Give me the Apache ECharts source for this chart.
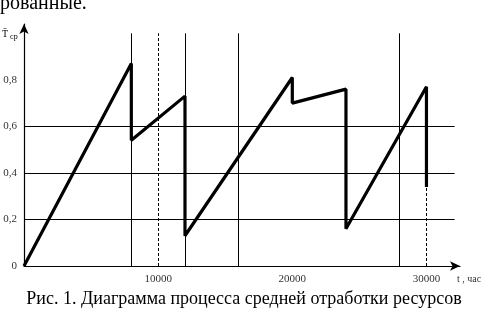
<!DOCTYPE html>
<html><head><meta charset="utf-8">
<script src="https://cdn.jsdelivr.net/npm/echarts@6/dist/echarts.min.js"></script>
<style>html,body{margin:0;padding:0;background:#fff}#c{width:488px;height:312px}</style>
</head><body><div id="c"></div>
<script>
// data
const timeX = [0, 8000, 8000, 12000, 12000, 20000, 20000, 24000, 24000, 30000, 30000];
const tAvg = [0, 0.87, 0.54, 0.73, 0.13, 0.81, 0.70, 0.76, 0.16, 0.77, 0.34];
const solidVerticals = [8000, 12000, 16000, 28000];
const dashedVerticals = [10000];
const hGrid = [0.2, 0.4, 0.6];
const xTickLabels = ['10000', '20000', '30000'];
const yTickLabels = ['0', '0,2', '0,4', '0,6', '0,8'];

const serif = '"Liberation Serif", "DejaVu Serif", serif';
const chart = echarts.init(document.getElementById('c'));
const lastX = timeX[timeX.length - 1], lastY = tAvg[tAvg.length - 1];
const mlData = [];
solidVerticals.forEach(v => mlData.push([{coord: [v, 0]}, {coord: [v, 1.0]}]));
hGrid.forEach(v => mlData.push([{coord: [0, v]}, {coord: [32100, v]}]));
const mlDash = [];
dashedVerticals.forEach(v => mlDash.push([{coord: [v, 0]}, {coord: [v, 1.0]}]));
mlDash.push([{coord: [lastX, 0]}, {coord: [lastX, lastY]}]);

chart.setOption({
  animation: false,
  backgroundColor: '#fff',
  grid: {left: 24, top: 24, width: 436, height: 242, containLabel: false, outerBoundsMode: 'none'},
  xAxis: {
    type: 'value', min: 0, max: 32500, interval: 10000,
    axisLine: {lineStyle: {color: '#000', width: 1.2}, symbol: ['none', 'arrow'], symbolSize: [7, 10]},
    axisTick: {show: false}, splitLine: {show: false},
    axisLabel: {color: '#333', fontFamily: serif, fontSize: 11, margin: 8, showMaxLabel: false,
      formatter: v => { if (v % 10000 !== 0) return ''; const i = v / 10000 - 1; return i >= 0 && i < xTickLabels.length ? xTickLabels[i] : ''; }},
    name: 't , час', nameLocation: 'end', nameGap: -3,
    nameTextStyle: {color: '#333', fontFamily: serif, fontSize: 10, verticalAlign: 'top', padding: [8, 0, 0, 0]}
  },
  yAxis: {
    type: 'value', min: 0, max: 1.04, interval: 0.2,
    axisLine: {show: true, lineStyle: {color: '#000', width: 1.2}, symbol: ['none', 'arrow'], symbolSize: [7, 10]},
    axisTick: {show: false}, splitLine: {show: false},
    axisLabel: {color: '#333', fontFamily: serif, fontSize: 11, margin: 7, showMaxLabel: false,
      formatter: v => { const i = Math.round(v / 0.2); return i < yTickLabels.length ? yTickLabels[i] : ''; }}
  },
  series: [
    {type: 'line', data: [], silent: true,
      markLine: {silent: true, symbol: 'none', label: {show: false}, lineStyle: {color: '#000', width: 1, type: 'solid'}, data: mlData}},
    {type: 'line', data: [], silent: true,
      markLine: {silent: true, symbol: 'none', label: {show: false}, lineStyle: {color: '#000', width: 1, type: [3, 2]}, data: mlDash}},
    {type: 'line', data: timeX.map((x, i) => [x, tAvg[i]]), showSymbol: false,
      lineStyle: {color: '#000', width: 3.2}, z: 5}
  ],
  graphic: [
    {type: 'text', left: 0, top: -6, style: {text: 'рованные.', font: '20px ' + serif, fill: '#000'}},
    {type: 'text', left: 2, top: 29, style: {
      text: '{t|T̄}{s|ср}', rich: {
        t: {fontFamily: serif, fontSize: 10, fill: '#000'},
        s: {fontFamily: serif, fontSize: 8, fill: '#000', padding: [5, 0, 0, 2]}
      }}},
    {type: 'text', left: 'center', top: 290, style: {text: 'Рис. 1. Диаграмма процесса средней отработки ресурсов', font: '18px ' + serif, fill: '#000'}}
  ]
});
</script></body></html>
